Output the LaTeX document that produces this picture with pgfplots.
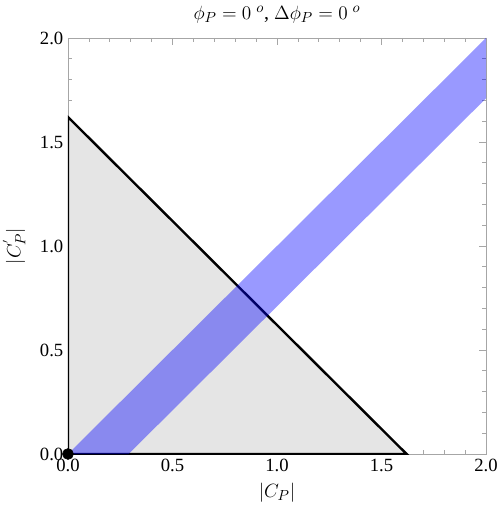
\documentclass[border=0pt]{standalone}
\usepackage{fontspec}
\setmainfont{Liberation Serif}
\usepackage{pgfplots}
\pgfplotsset{compat=1.18}
\begin{document}
\begin{tikzpicture}
\begin{axis}[
  scale only axis,
  width=313.5pt, height=312pt,
  xmin=0, xmax=2, ymin=0, ymax=2,
  xtick={0,0.5,1,1.5,2},
  ytick={0,0.5,1,1.5,2},
  minor tick num=4,
  tick align=inside,
  major tick length=5pt,
  minor tick length=3pt,
  axis line style={draw=gray!70, line width=0.6pt},
  every tick/.style={gray!70, line width=0.5pt},
  /pgf/number format/fixed,
  /pgf/number format/fixed zerofill,
  /pgf/number format/precision=1,
  /pgf/number format/assume math mode=true,
  font=\fontsize{14}{16}\selectfont,
  title={$\phi_P = 0\ ^o$, $\Delta\phi_P = 0\ ^o$},
  title style={yshift=1.5pt, font=\fontsize{15}{17}\selectfont},
  xlabel={$|C_P|$},
  ylabel={$|C_P^{'}|$},
  label style={font=\fontsize{15}{17}\selectfont},
  xlabel shift=2pt,
  ylabel shift=4pt,
  clip mode=individual,
]
\addplot[fill=gray!20, draw=black, line width=1.8pt] coordinates {(0,0) (0,1.62) (1.62,0)} -- cycle;
\addplot[fill=blue, fill opacity=0.4, draw=none] coordinates {(0,0) (2,2) (2,1.71) (0.29,0)} -- cycle;
\addplot[only marks, mark=*, mark size=4.1pt, black] coordinates {(0,0)};
\end{axis}
\pgfresetboundingbox
\path ([xshift=-51pt,yshift=-45pt]current axis.south west) rectangle ([xshift=10.5pt,yshift=28.5pt]current axis.north east);
\end{tikzpicture}
\end{document}
